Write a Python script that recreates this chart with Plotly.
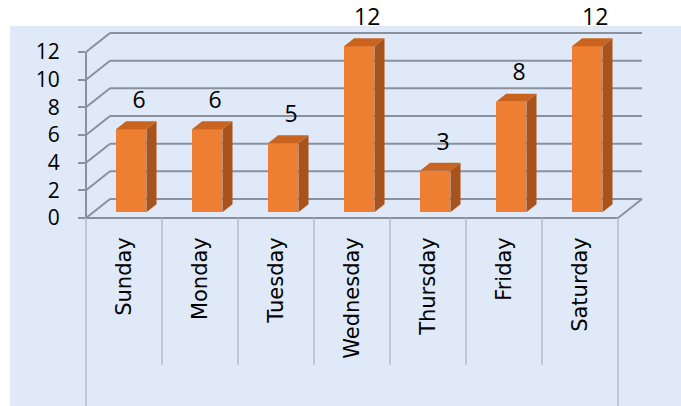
import plotly.graph_objects as go

# ---- data ----
days = ["Sunday", "Monday", "Tuesday", "Wednesday", "Thursday", "Friday", "Saturday"]
values = [6, 6, 5, 12, 3, 8, 12]
y_ticks = [0, 2, 4, 6, 8, 10, 12]

# ---- geometry / style ----
W, H = 681, 406
ML, MR, MT, MB = 86, 30, 0, 188
PW, PH = W - ML - MR, H - MT - MB
CAT_PX = 76.0
UNIT_PX = 166.0 / 12
XMIN = -0.5
XMAX = XMIN + PW / CAT_PX
YMAX = PH / UNIT_PX
XEND = len(days) - 0.5

DX, DY = 24 / CAT_PX, 19 / UNIT_PX          # wall depth offset
BAR_W = 0.4
BAR_OFF = -0.105
BASE = 0.3 * DY
BDX, BDY = 0.42 * DX, 0.42 * DY             # bar depth

FRONT = "#EE7E32"
SIDE = "#A8531C"
TOP = "#C8641F"
GRID = "#88929e"
DIV = "#b6bbc1"
BG = "#dfe9f7"


def xp(x):
    return (x - XMIN) / (XMAX - XMIN)


def yp(y):
    return y / YMAX


def pxx(p):
    return (p - ML) / PW


def pxy(p):
    return (MT + PH - p) / PH


shapes = []
# background panel
shapes.append(dict(type="rect", xref="paper", yref="paper", x0=pxx(10), x1=pxx(W), y0=pxy(H), y1=pxy(26),
                   fillcolor=BG, line=dict(width=0), layer="below"))


def seg(x0, y0, x1, y1, color=GRID, width=2):
    shapes.append(dict(type="line", xref="paper", yref="paper", x0=xp(x0), y0=yp(y0), x1=xp(x1), y1=yp(y1),
                       line=dict(color=color, width=width), layer="below"))


for v in y_ticks:
    seg(XMIN + DX, v + DY, XEND + DX, v + DY)
    seg(XMIN, v, XMIN + DX, v + DY)
seg(XMIN, 0, XEND, 0)
seg(XEND, 0, XEND + DX, DY)
seg(XMIN, 0, XMIN, y_ticks[-1])

# category dividers below the floor
for k in range(len(days) + 1):
    x = XMIN + k
    bottom = H if k in (0, len(days)) else 365
    shapes.append(dict(type="line", xref="paper", yref="paper", x0=xp(x), x1=xp(x), y0=yp(0), y1=pxy(bottom),
                       line=dict(color=DIV, width=1.5), layer="below"))

fig = go.Figure()
xpos = list(range(len(days)))
fig.add_trace(go.Bar(x=xpos, y=values, base=BASE, width=BAR_W, offset=BAR_OFF,
                     marker=dict(color=FRONT, line=dict(width=0)), hoverinfo="skip", cliponaxis=False))

side_x, side_y, top_x, top_y = [], [], [], []
for i, v in enumerate(values):
    xl = i + BAR_OFF
    xr = xl + BAR_W
    yt = BASE + v
    side_x += [xr, xr, xr + BDX, xr + BDX, xr, None]
    side_y += [BASE, yt, yt + BDY, BASE + BDY, BASE, None]
    top_x += [xl, xr, xr + BDX, xl + BDX, xl, None]
    top_y += [yt, yt, yt + BDY, yt + BDY, yt, None]

fig.add_trace(go.Scatter(x=side_x, y=side_y, mode="lines", fill="toself", fillcolor=SIDE,
                         line=dict(width=0, color=SIDE), hoverinfo="skip", cliponaxis=False))
fig.add_trace(go.Scatter(x=top_x, y=top_y, mode="lines", fill="toself", fillcolor=TOP,
                         line=dict(width=0, color=TOP), hoverinfo="skip", cliponaxis=False))

fig.add_trace(go.Scatter(x=[i + 0.2 for i in xpos], y=[v + BASE + 1.95 for v in values],
                         text=[str(v) for v in values], mode="text", textposition="middle center",
                         textfont=dict(family="Open Sans", size=23, color="#000000"),
                         hoverinfo="skip", cliponaxis=False))

fig.update_layout(
    width=W, height=H, margin=dict(l=ML, r=MR, t=MT, b=MB, pad=0),
    paper_bgcolor="#ffffff", plot_bgcolor="rgba(0,0,0,0)",
    showlegend=False, shapes=shapes, bargap=0,
    xaxis=dict(range=[XMIN, XMAX], tickvals=xpos, ticktext=days, tickangle=-90,
               ticks="", showgrid=False, zeroline=False, showline=False,
               tickfont=dict(family="DejaVu Sans", size=21, color="#000000"),
               ticklabelstandoff=14, fixedrange=True),
    yaxis=dict(range=[0, YMAX], tickvals=y_ticks, ticks="outside", ticklen=7, tickwidth=2,
               tickcolor=GRID, showgrid=False, zeroline=False, showline=False,
               tickfont=dict(family="Open Sans", size=21, color="#000000"),
               ticklabelstandoff=14, fixedrange=True),
)

fig.write_html("out.html")
